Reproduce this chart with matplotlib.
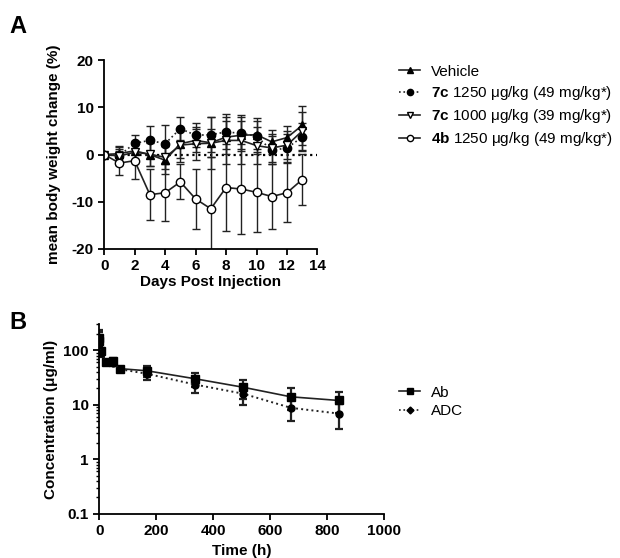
import numpy as np
import matplotlib.pyplot as plt
from matplotlib.lines import Line2D
from matplotlib.ticker import LogLocator, NullFormatter

plt.rcParams['font.family'] = 'Liberation Sans'
plt.rcParams['mathtext.fontset'] = 'custom'
plt.rcParams['mathtext.rm'] = 'Liberation Sans'
plt.rcParams['mathtext.bf'] = 'Liberation Sans:bold'
plt.rcParams['axes.linewidth'] = 1.3
plt.rcParams['axes.unicode_minus'] = False

# ---- panel A data: body weight change (%)
days = list(range(14))
vehicle = [0, 0.2, 0.8, 0.0, -1.2, 2.3, 3.0, 2.5, 3.7, 4.1, 4.2, 2.7, 3.6, 6.2]
vehicle_err = [0, 1.5, 2.0, 2.5, 3.0, 3.0, 2.5, 3.0, 3.5, 3.0, 3.0, 2.5, 2.5, 4.2]
c7_1250 = [0, -0.2, 2.4, 3.0, 2.3, 5.5, 4.1, 4.2, 4.8, 4.5, 3.9, 0.9, 1.4, 3.7]
c7_1250_err = [0, 2.0, 1.8, 3.0, 4.0, 2.5, 2.5, 3.7, 3.7, 3.8, 3.8, 3.0, 3.0, 3.0]
c7_1000 = [0, -0.3, 0.5, 0.1, -0.6, 2.0, 2.3, 2.4, 3.0, 3.0, 1.9, 1.4, 2.0, 5.0]
c7_1000_err = [0, 1.5, 2.0, 2.5, 2.5, 3.5, 3.5, 5.5, 5.0, 5.0, 4.0, 3.0, 3.0, 4.0]
b4_1250 = [0, -1.8, -1.3, -8.5, -8.1, -5.8, -9.4, -11.5, -7.0, -7.3, -8.0, -8.9, -8.1, -5.3]
b4_1250_err = [0, 2.5, 3.9, 5.4, 6.0, 3.7, 6.4, 11.0, 9.2, 9.5, 8.5, 6.9, 6.3, 5.4]

labels_a = ['Vehicle',
            r'$\mathbf{7c}$ 1250 μg/kg (49 mg/kg*)',
            r'$\mathbf{7c}$ 1000 μg/kg (39 mg/kg*)',
            r'$\mathbf{4b}$ 1250 μg/kg (49 mg/kg*)']

# ---- panel B data: concentration (ug/ml)
time_h = [0.083, 1, 6, 24, 48, 72, 168, 336, 504, 672, 840]
ab = [170, 150, 95, 62, 63, 46, 42, 30, 21, 14, 12]
ab_err = [60, 40, 15, 5, 8, 4, 9, 9, 8, 6, 5]
adc = [160, 130, 88, 60, 58, 45, 37, 23.5, 16, 8.8, 6.9]
adc_err = [60, 35, 12, 5, 7, 4, 8, 7, 6, 3.8, 3.3]


def style_axes(ax):
    ax.spines['top'].set_visible(False)
    ax.spines['right'].set_visible(False)
    ax.tick_params(width=1.3, length=4, labelsize=11)
    for lab in ax.get_xticklabels() + ax.get_yticklabels():
        lab.set_fontweight('bold')


fig = plt.figure(figsize=(6.2, 5.58), dpi=100)

# ---------------- A
axA = fig.add_axes([0.168, 0.554, 0.344, 0.338])
axA.plot([0, 14], [0, 0], ls=':', color='black', lw=1.6, zorder=1)

series = [
    (vehicle, vehicle_err, '^', 'black', '-'),
    (c7_1250, c7_1250_err, 'o', 'black', ':'),
    (c7_1000, c7_1000_err, 'v', 'white', '-'),
    (b4_1250, b4_1250_err, 'o', 'white', '-'),
]
handles = []
for (y, e, m, fc, ls) in series:
    axA.errorbar(days, y, yerr=e, marker=m, ms=6, mfc=fc, mec='black',
                 color='#222222', ls=ls, lw=1.2, elinewidth=1.0,
                 capsize=3, capthick=1.0)
    handles.append(Line2D([], [], marker=m, ms=4.5, mfc=fc, mec='black',
                          color='#222222', ls=ls, lw=1.2))

axA.set_xlim(0, 14)
axA.set_ylim(-20, 20)
axA.set_xticks(range(0, 15, 2))
axA.set_yticks([-20, -10, 0, 10, 20])
axA.set_xlabel('Days Post Injection', fontsize=11, fontweight='bold', labelpad=1)
axA.set_ylabel('mean body weight change (%)', fontsize=11, fontweight='bold',
               labelpad=8)
style_axes(axA)
axA.legend(handles, labels_a, loc='upper left', bbox_to_anchor=(0.6435, 0.884),
           bbox_transform=fig.transFigure, borderpad=0, borderaxespad=0,
           frameon=False, fontsize=11, handlelength=1.4, handletextpad=0.7,
           labelspacing=0.34)
fig.text(0.015, 0.94, 'A', fontsize=17, fontweight='bold')

# ---------------- B
axB = fig.add_axes([0.160, 0.079, 0.460, 0.340])
axB.errorbar(time_h, ab, yerr=ab_err, marker='s', ms=6, mfc='black',
             mec='black', color='#222222', ls='-', lw=1.2,
             elinewidth=1.6, capsize=3, capthick=1.6)
axB.errorbar(time_h, adc, yerr=adc_err, marker='o', ms=5, mfc='black',
             mec='black', color='#222222', ls=':', lw=1.4,
             elinewidth=1.6, capsize=3, capthick=1.6)
hb1 = Line2D([], [], marker='s', ms=4.5, mfc='black', mec='black',
             color='#222222', ls='-', lw=1.2)
hb2 = Line2D([], [], marker='D', ms=3.5, mfc='black', mec='black',
             color='#222222', ls=':', lw=1.2)
axB.set_yscale('log')
axB.set_xlim(0, 1000)
axB.set_ylim(0.1, 300)
axB.set_xticks([0, 200, 400, 600, 800, 1000])
axB.set_yticks([0.1, 1, 10, 100])
axB.set_yticklabels(['0.1', '1', '10', '100'])
axB.yaxis.set_minor_locator(LogLocator(base=10, subs=np.arange(2, 10)))
axB.yaxis.set_minor_formatter(NullFormatter())
axB.tick_params(which='minor', length=2.5, width=1.0)
axB.set_xlabel('Time (h)', fontsize=11, fontweight='bold', labelpad=4)
axB.set_ylabel('Concentration (μg/ml)', fontsize=11, fontweight='bold')
style_axes(axB)
axB.legend([hb1, hb2], ['Ab', 'ADC'], loc='upper left',
           bbox_to_anchor=(0.6435, 0.309), bbox_transform=fig.transFigure,
           borderpad=0, borderaxespad=0, frameon=False, fontsize=11,
           handlelength=1.4, handletextpad=0.7, labelspacing=0.3)
fig.text(0.015, 0.41, 'B', fontsize=17, fontweight='bold')

fig.savefig('out.png', dpi=100)
